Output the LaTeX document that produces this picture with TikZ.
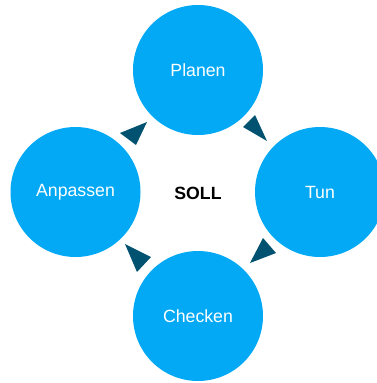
\documentclass[tikz,border=0pt]{standalone}
\usepackage{fontspec}
\setmainfont{Liberation Sans}
\definecolor{circblue}{RGB}{3,169,244}
\definecolor{tridark}{RGB}{0,82,112}
\begin{document}
\begin{tikzpicture}[x=1pt,y=-1pt,
  phase/.style={circle,fill=circblue,minimum size=130pt,inner sep=0pt,text=white,font=\fontsize{17.7}{20}\selectfont},
  tri/.style={fill=tridark}]
\useasboundingbox (0,0) rectangle (376,383);
\node[phase] (planen) at (198,70) {Planen};
\node[phase] (anpassen) at (75.5,192) {Anpassen};
\node[phase] (tun) at (320,192) {Tun};
\node[phase] (checken) at (198,316) {Checken};
\node[font=\fontsize{17.7}{20}\selectfont\bfseries] (soll) at (198,193) {SOLL};
\fill[tri] (120,133) -- (147,122) -- (136,145) -- cycle;
\fill[tri] (243,127) -- (255,115) -- (267,141) -- cycle;
\fill[tri] (263,238) -- (276,253) -- (250,263) -- cycle;
\fill[tri] (125,244) -- (151,257) -- (137,272) -- cycle;
\end{tikzpicture}
\end{document}
